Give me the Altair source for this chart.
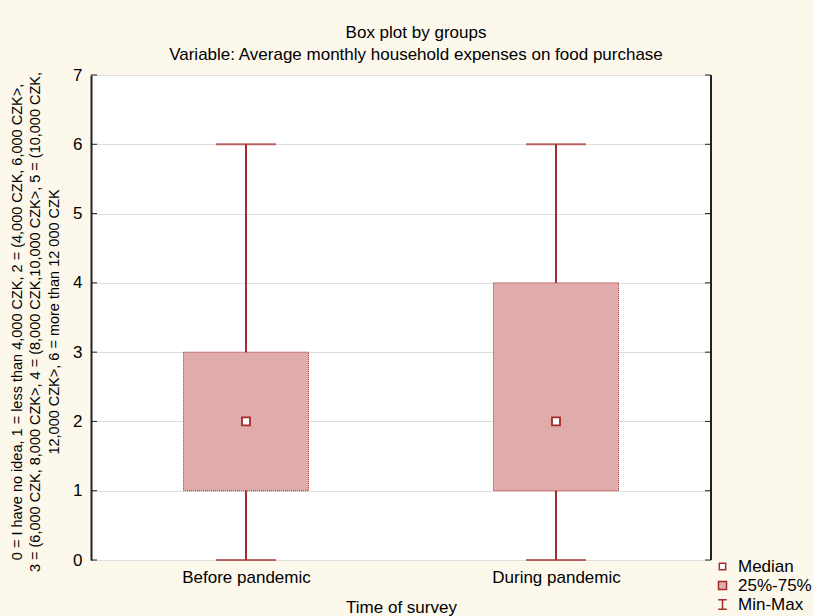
import altair as alt
import pandas as pd

# Five-number summary per survey period (answer codes 0-6)
groups = ["Before pandemic", "During pandemic"]
minimum = [0, 0]
lower_quartile = [1, 1]
median = [2, 2]
upper_quartile = [3, 4]
maximum = [6, 6]

y_ticks = [0, 1, 2, 3, 4, 5, 6, 7]
legend_keys = ["Median", "25%-75%", "Min-Max"]

DARK_RED = "#a52a2a"
HATCH = "#dfabab"
CREAM = "#fdf8ec"
FONT = "Liberation Sans"
W, H = 620, 485
IBEAM = "M-0.9,-1H0.9M0,-1V1M-0.9,1H0.9"

stats = pd.DataFrame({
    "group": groups,
    "min": minimum,
    "q1": lower_quartile,
    "median": median,
    "q3": upper_quartile,
    "max": maximum,
})

y_scale = alt.Scale(domain=[0, 7], nice=False)

x_enc = alt.X(
    "group:N",
    scale=alt.Scale(type="point", domain=groups, padding=0.5),
    axis=alt.Axis(
        title="Time of survey", labelAngle=0, domain=False, ticks=False, grid=False,
        labelFontSize=17, titleFontSize=17, labelPadding=9, titlePadding=14,
        labelColor="black", titleColor="black", labelFont=FONT, titleFont=FONT,
        titleFontWeight="normal",
    ),
)

y_title = [
    "0 = I have no idea, 1 = less than 4,000 CZK, 2 = (4,000 CZK, 6,000 CZK>,",
    "3 = (6,000 CZK, 8,000 CZK>, 4 = (8,000 CZK,10,000 CZK>, 5 = (10,000 CZK,",
    "12,000 CZK>, 6 = more than 12 000 CZK",
]

y_axis = alt.Axis(
    title=y_title, values=y_ticks, format="d", grid=True, gridColor="#dedede", gridWidth=1,
    domainColor="#222222", domainWidth=2, ticks=False,
    labelFontSize=17, labelPadding=9, labelColor="black", labelFont=FONT,
    titleFont=FONT, titleFontSize=14.5, titleFontWeight="normal", titleColor="black",
    titleAngle=-90, titleX=-81, titleY=H / 2 + 4, titleBaseline="top", titleAlign="center",
    titleLineHeight=18.5,
)

base = alt.Chart(stats).encode(x=x_enc)

whiskers = base.mark_rule(color=DARK_RED, strokeWidth=2).encode(
    y=alt.Y("min:Q", scale=y_scale, axis=y_axis), y2="max:Q"
)

caps = base.transform_fold(["min", "max"], as_=["stat", "value"]).mark_tick(
    color=DARK_RED, size=60, thickness=2
).encode(y=alt.Y("value:Q", scale=y_scale))

boxes = base.mark_bar(
    width=125, fill=HATCH, stroke=DARK_RED, strokeWidth=1, strokeDash=[1, 1]
).encode(y=alt.Y("q1:Q", scale=y_scale), y2="q3:Q")

medians = base.mark_point(
    shape="square", size=64, filled=True, fill="white", stroke=DARK_RED,
    strokeWidth=1.8, opacity=1
).encode(y=alt.Y("median:Q", scale=y_scale))

tick_df = pd.DataFrame({"v": y_ticks})
left_ticks = alt.Chart(tick_df).mark_rule(color="#222222", strokeWidth=1).encode(
    y=alt.Y("v:Q", scale=y_scale), x=alt.value(0), x2=alt.value(6)
)
right_ticks = alt.Chart(tick_df).mark_rule(color="#222222", strokeWidth=1).encode(
    y=alt.Y("v:Q", scale=y_scale), x=alt.value(W - 6), x2=alt.value(W)
)
right_edge = alt.Chart(tick_df).mark_rule(color="#222222", strokeWidth=2).encode(
    x=alt.value(W), y=alt.value(0), y2=alt.value(H)
)

legend_props = dict(
    title=None, orient="none", legendX=623, legendY=483, padding=0,
    labelFontSize=17, labelFont=FONT, labelColor="black",
    symbolOpacity=1, symbolStrokeWidth=1.5, rowPadding=1, labelOffset=7,
)
legend_df = pd.DataFrame({"key": legend_keys})
legend_layer = alt.Chart(legend_df).mark_point(opacity=0, strokeWidth=1.5).encode(
    x=alt.value(0),
    y=alt.value(0),
    shape=alt.Shape("key:N", scale=alt.Scale(domain=legend_keys, range=["square", "square", IBEAM]),
                    legend=alt.Legend(**legend_props)),
    fill=alt.Fill("key:N", scale=alt.Scale(domain=legend_keys, range=["white", HATCH, "transparent"]),
                  legend=alt.Legend(**legend_props)),
    stroke=alt.Stroke("key:N", scale=alt.Scale(domain=legend_keys, range=[DARK_RED, DARK_RED, DARK_RED]),
                      legend=alt.Legend(**legend_props)),
    size=alt.Size("key:N", scale=alt.Scale(domain=legend_keys, range=[40, 90, 120]),
                  legend=alt.Legend(**legend_props)),
)

chart = alt.layer(
    whiskers, boxes, caps, medians, left_ticks, right_ticks, right_edge, legend_layer
).properties(
    width=W,
    height=H,
    title=alt.TitleParams(
        text=["Box plot by groups", "Variable: Average monthly household expenses on food purchase"],
        fontSize=17, font=FONT, fontWeight="normal", color="black", lineHeight=22,
        offset=12, dx=15, dy=10, frame="group",
    ),
    autosize=alt.AutoSizeParams(type="none"),
    padding={"left": 91, "top": 75, "right": 814 - 91 - W, "bottom": 616 - 75 - H},
    background=CREAM,
).configure_view(fill="white", stroke=None)

chart.save("out.html", embed_options={"renderer": "svg", "actions": False})
